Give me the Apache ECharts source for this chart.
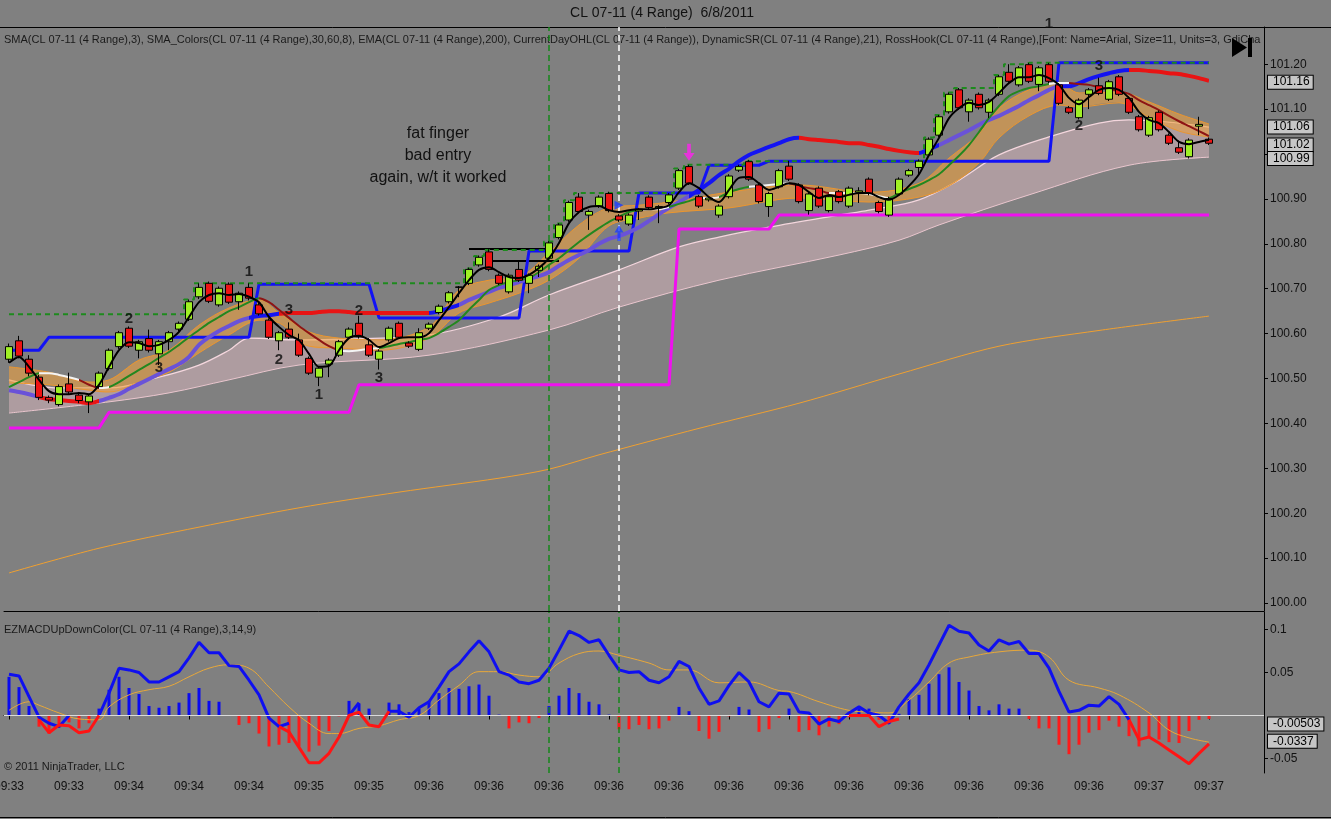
<!DOCTYPE html>
<html><head><meta charset="utf-8">
<script src="https://cdn.jsdelivr.net/npm/echarts@6/dist/echarts.min.js"></script>
<style>html,body{margin:0;padding:0;background:#808080;}#c{width:1331px;height:819px;}</style>
</head><body><div id="c"></div>
<script>
// ---------------- DATA ----------------
const timeLabels = ['09:33','09:33','09:34','09:34','09:34','09:35','09:35','09:36','09:36','09:36','09:36','09:36','09:36','09:36','09:36','09:36','09:36','09:36','09:36','09:37','09:37'];

// [open, close, low, high]
const ohlc = [
[100.543,100.571,100.535,100.578],[100.584,100.550,100.545,100.595],[100.543,100.512,100.505,100.552],[100.503,100.458,100.452,100.508],[100.458,100.452,100.445,100.462],
[100.442,100.482,100.438,100.487],[100.488,100.470,100.465,100.513],[100.463,100.451,100.445,100.470],[100.448,100.461,100.423,100.466],[100.482,100.512,100.478,100.516],
[100.522,100.563,100.518,100.567],[100.571,100.602,100.566,100.606],[100.612,100.572,100.568,100.616],[100.563,100.582,100.545,100.586],[100.589,100.563,100.558,100.609],
[100.555,100.582,100.530,100.586],[100.582,100.602,100.563,100.606],[100.610,100.623,100.605,100.627],[100.632,100.671,100.628,100.676],[100.682,100.703,100.677,100.712],
[100.712,100.672,100.668,100.716],[100.664,100.701,100.660,100.705],[100.710,100.670,100.666,100.714],[100.671,100.690,100.653,100.694],[100.703,100.679,100.674,100.712],
[100.664,100.644,100.640,100.668],[100.630,100.592,100.588,100.634],[100.584,100.602,100.563,100.606],[100.610,100.592,100.588,100.625],[100.586,100.552,100.548,100.600],
[100.545,100.512,100.508,100.549],[100.503,100.523,100.483,100.527],[100.532,100.541,100.503,100.545],[100.552,100.582,100.548,100.586],[100.592,100.610,100.588,100.614],
[100.623,100.593,100.589,100.640],[100.575,100.552,100.548,100.590],[100.543,100.561,100.520,100.565],[100.586,100.612,100.582,100.616],[100.623,100.592,100.588,100.627],
[100.579,100.572,100.568,100.583],[100.565,100.602,100.561,100.612],[100.612,100.621,100.608,100.625],[100.647,100.661,100.643,100.665],[100.671,100.691,100.667,100.695],
[100.703,100.704,100.681,100.706],[100.712,100.743,100.708,100.747],[100.753,100.770,100.749,100.774],[100.782,100.743,100.739,100.788],[100.730,100.712,100.708,100.734],
[100.693,100.730,100.689,100.734],[100.743,100.719,100.715,100.762],[100.712,100.730,100.690,100.734],[100.741,100.750,100.726,100.754],[100.768,100.802,100.764,100.806],
[100.814,100.842,100.810,100.846],[100.853,100.892,100.849,100.896],[100.904,100.872,100.868,100.913],[100.864,100.872,100.831,100.876],[100.884,100.904,100.880,100.908],
[100.912,100.874,100.870,100.916],[100.862,100.853,100.849,100.866],[100.844,100.864,100.840,100.868],[100.873,100.877,100.853,100.880],[100.904,100.881,100.877,100.908],
[100.880,100.883,100.846,100.886],[100.892,100.909,100.888,100.913],[100.924,100.963,100.920,100.967],[100.972,100.935,100.931,100.976],[100.905,100.884,100.880,100.909],
[100.898,100.902,100.894,100.906],[100.864,100.884,100.858,100.888],[100.905,100.951,100.901,100.955],[100.964,100.972,100.960,100.976],[100.983,100.944,100.940,100.987],
[100.931,100.894,100.890,100.935],[100.883,100.912,100.860,100.916],[100.927,100.963,100.923,100.967],[100.973,100.944,100.940,100.985],[100.931,100.894,100.890,100.935],
[100.874,100.911,100.865,100.915],[100.924,100.884,100.880,100.928],[100.874,100.905,100.870,100.909],[100.916,100.894,100.890,100.920],[100.884,100.924,100.880,100.928],
[100.915,100.918,100.891,100.926],[100.944,100.912,100.908,100.948],[100.892,100.872,100.868,100.896],[100.864,100.901,100.860,100.905],[100.911,100.944,100.907,100.948],
[100.953,100.963,100.949,100.967],[100.970,100.984,100.955,100.988],[100.998,101.033,100.994,101.037],[101.042,101.083,101.038,101.087],[101.094,101.133,101.090,101.137],
[101.143,101.103,101.099,101.147],[101.094,101.120,101.072,101.124],[101.133,101.103,101.099,101.137],[101.093,101.120,101.080,101.124],[101.133,101.172,101.129,101.176],
[101.182,101.162,101.158,101.200],[101.154,101.192,101.150,101.196],[101.199,101.162,101.158,101.203],[101.155,101.192,101.140,101.196],[101.199,101.162,101.158,101.203],
[101.154,101.113,101.109,101.158],[101.103,101.093,101.089,101.107],[101.081,101.120,101.077,101.124],[101.133,101.143,101.100,101.147],[101.152,101.135,101.131,101.170],
[101.122,101.161,101.118,101.165],[101.172,101.133,101.129,101.176],[101.124,101.093,101.089,101.128],[101.083,101.054,101.050,101.087],[101.042,101.081,101.038,101.085],
[101.093,101.054,101.050,101.097],[101.042,101.024,101.020,101.046],[101.014,101.004,101.000,101.030],[100.994,101.031,100.990,101.035],[101.062,101.066,101.042,101.083],
[101.033,101.024,101.020,101.037]
];

// SMA(3) black line
const smaFast = [100.535,100.548,100.526,100.497,100.472,100.465,100.465,100.468,100.465,100.486,
100.526,100.563,100.581,100.579,100.572,100.575,100.586,100.604,100.637,100.670,
100.686,100.690,100.686,100.688,100.682,100.670,100.637,100.615,100.597,100.585,
100.555,100.526,100.528,100.563,100.590,100.595,100.586,100.570,100.579,100.590,
100.592,100.592,100.601,100.630,100.659,100.690,100.719,100.742,100.748,100.737,
100.726,100.724,100.731,100.746,100.768,100.802,100.846,100.871,100.882,100.884,
100.875,100.871,100.875,100.877,100.877,100.880,100.886,100.915,100.935,100.924,
100.904,100.893,100.920,100.947,100.949,100.935,100.920,100.927,100.935,100.931,
100.915,100.902,100.909,100.904,100.909,100.913,100.913,100.904,100.898,100.909,
100.929,100.955,100.998,101.036,101.080,101.102,101.114,101.109,101.116,101.136,
101.158,101.171,101.171,101.176,101.169,101.154,101.125,101.111,101.127,101.143,
101.147,101.143,101.125,101.094,101.076,101.069,101.049,101.027,101.022,101.027,
101.031];

// SMA_Colors middle line (green rising / white flat / dark red falling)
const midLine = [100.481,100.492,100.503,100.512,100.512,100.508,100.503,100.497,100.486,100.479,
100.481,100.492,100.506,100.519,100.532,100.546,100.559,100.575,100.592,100.608,
100.624,100.637,100.650,100.659,100.670,100.679,100.670,100.653,100.635,100.617,
100.601,100.586,100.572,100.563,100.561,100.563,100.566,100.568,100.572,100.577,
100.581,100.586,100.590,100.601,100.615,100.630,100.653,100.675,100.697,100.708,
100.715,100.719,100.724,100.737,100.753,100.768,100.786,100.804,100.820,100.835,
100.849,100.860,100.871,100.875,100.877,100.877,100.882,100.889,100.895,100.902,
100.902,100.904,100.915,100.922,100.927,100.929,100.931,100.933,100.935,100.929,
100.924,100.920,100.913,100.913,100.913,100.913,100.911,100.906,100.902,100.913,
100.922,100.931,100.942,100.955,100.975,100.996,101.020,101.049,101.080,101.107,
101.129,101.140,101.147,101.151,101.156,101.158,101.158,101.156,101.154,101.149,
101.145,101.140,101.134,101.120,101.109,101.098,101.085,101.073,101.062,101.051,
101.040];
const midSegs = [[0,3,'U'],[3,7,'F'],[7,9,'D'],[9,10,'F'],[10,25,'U'],[25,33,'D'],[33,37,'F'],[37,63,'U'],[63,66,'F'],[66,69,'U'],[69,71,'F'],[71,74,'U'],[74,78,'F'],[78,82,'D'],[82,88,'F'],[88,104,'U'],[104,106,'F'],[106,120,'D']];

// thick slope-coloured line
const thickLine = [100.474,100.470,100.465,100.459,100.454,100.452,100.450,100.448,100.445,100.450,
100.457,100.465,100.477,100.488,100.499,100.510,100.521,100.532,100.548,100.575,
100.592,100.606,100.617,100.628,100.635,100.639,100.641,100.644,100.646,100.646,
100.646,100.648,100.650,100.650,100.648,100.646,100.646,100.646,100.646,100.646,
100.646,100.646,100.646,100.650,100.657,100.664,100.675,100.684,100.693,100.702,
100.708,100.715,100.722,100.728,100.737,100.751,100.764,100.775,100.786,100.800,
100.811,100.817,100.826,100.837,100.851,100.866,100.880,100.893,100.906,100.920,
100.935,100.953,100.967,100.984,100.998,101.007,101.016,101.024,101.033,101.036,
101.033,101.031,101.029,101.027,101.024,101.024,101.020,101.016,101.011,101.007,
101.004,101.002,101.011,101.020,101.031,101.042,101.053,101.065,101.076,101.085,
101.096,101.107,101.120,101.131,101.143,101.151,101.151,101.158,101.167,101.174,
101.180,101.185,101.187,101.187,101.185,101.183,101.180,101.178,101.174,101.169,
101.163];
const thickSegs = [[0,3,'P'],[3,9,'R'],[9,24,'P'],[24,27,'B'],[27,42,'R'],[42,45,'B'],[45,68,'P'],[68,79,'B'],[79,91,'R'],[91,93,'B'],[93,105,'P'],[105,112,'B'],[112,120,'R']];

// orange band [bar, price]
const orangeUp = [[0,100.526],[4,100.514],[8,100.492],[10,100.497],[13,100.541],[16,100.563],[19,100.619],[22,100.657],[25,100.675],[27,100.646],[30,100.604],[33,100.590],[37,100.586],[42,100.615],[45,100.697],[48,100.719],[51,100.726],[54,100.780],[57,100.842],[60,100.880],[63,100.886],[66,100.893],[72,100.915],[79,100.931],[86,100.915],[91,100.935],[94,100.991],[97,101.045],[99,101.102],[102,101.143],[105,101.158],[107,101.136],[111,101.138],[114,101.116],[117,101.089],[120,101.067]];
const orangeLo = [[0,100.490],[4,100.486],[8,100.474],[10,100.470],[13,100.492],[16,100.514],[19,100.557],[22,100.597],[25,100.630],[27,100.624],[30,100.572],[33,100.568],[37,100.563],[42,100.590],[45,100.646],[48,100.668],[51,100.690],[54,100.719],[57,100.768],[60,100.840],[63,100.857],[66,100.869],[72,100.880],[79,100.902],[86,100.893],[91,100.904],[94,100.929],[97,100.980],[99,101.036],[102,101.085],[105,101.109],[107,101.105],[111,101.114],[114,101.082],[117,101.051],[120,101.038]];

// pink band
const pinkUp = [[0,100.497],[5,100.479],[10,100.479],[15,100.503],[19,100.530],[22,100.563],[24,100.590],[29,100.586],[34,100.588],[42,100.597],[49,100.637],[54,100.686],[61,100.742],[67,100.793],[71,100.815],[76,100.837],[83,100.864],[86,100.875],[91,100.898],[95,100.942],[99,100.998],[104,101.038],[109,101.069],[112,101.076],[120,101.060]];
const pinkLo = [[0,100.423],[10,100.448],[16,100.468],[22,100.497],[29,100.530],[42,100.552],[54,100.608],[61,100.659],[71,100.719],[83,100.775],[89,100.808],[93,100.842],[102,100.909],[112,100.975],[120,100.993]];

// EMA(200)
const ema200 = [[0,100.067],[9,100.122],[19,100.169],[29,100.212],[39,100.247],[49,100.278],[54,100.298],[59,100.330],[69,100.389],[79,100.445],[89,100.510],[99,100.572],[109,100.607],[120,100.639]];

// DynamicSR resistance (blue) and support (magenta)
const dynRes = [[0,100.563],[3,100.563],[4,100.592],[24,100.592],[25,100.710],[36,100.710],[37,100.635],[51,100.635],[52,100.784],[62,100.784],[63,100.913],[69,100.913],[70,100.975],[75,100.975],[76,100.984],[104,100.984],[105,101.203],[120,101.203]];
const dynSup = [[0,100.390],[9,100.390],[10,100.425],[34,100.425],[35,100.486],[66,100.486],[67,100.833],[76,100.833],[77,100.864],[120,100.864]];

// CurrentDayOHL high (green dashed step)
const dayHigh = [[0,100.643],[17,100.643],[18,100.676],[19,100.712],[45,100.712],[46,100.745],[47,100.773],[48,100.786],[53,100.786],[54,100.805],[55,100.845],[56,100.897],[57,100.913],[66,100.913],[67,100.968],[68,100.976],[73,100.976],[74,100.984],[91,100.984],[92,101.037],[93,101.087],[94,101.137],[95,101.147],[98,101.147],[99,101.176],[100,101.200],[101,101.200],[102,101.203],[120,101.203]];

// hand drawn horizontal lines [fromBar, toBar, price]
const drawnLines = [[46,54,100.788],[48,55,100.762]];
// RossHook labels [bar, price, text]
const rossHooks = [[24,100.737,'1'],[12,100.633,'2'],[15,100.523,'3'],[28,100.653,'3'],[27,100.541,'2'],[31,100.463,'1'],[35,100.650,'2'],[37,100.501,'3'],[104,101.290,'1'],[109,101.196,'3'],[107,101.062,'2']];
const sellArrows = [[68,101.004]];
const buyArrows = [[61,100.824]];
const entryMarks = [[61,100.886]];
const vLinesPrice = [54,61];
const priceTicks = [100.0,100.1,100.2,100.3,100.4,100.5,100.6,100.7,100.8,100.9,101.0,101.1,101.2];
const priceTags = [101.16,101.06,101.02,100.99];

// MACD pane
const macdBlue = [0.048,0.046,0.022,-0.002,-0.009,-0.013,0.000,null,null,0.000,
0.026,0.055,0.053,0.050,0.039,0.039,0.045,0.051,0.067,0.085,
0.073,0.073,0.058,0.057,0.041,0.024,-0.003,-0.013,-0.009,null,
null,null,null,null,0.000,0.015,null,null,0.005,0.005,
-0.002,0.009,0.016,0.033,0.051,0.060,0.074,0.087,0.074,0.051,
0.047,0.039,0.037,0.041,0.055,0.076,0.098,0.093,0.085,0.088,
0.070,0.053,0.050,0.051,0.041,0.038,0.045,0.063,0.057,0.032,
0.013,0.017,0.035,0.050,0.039,0.016,0.010,0.026,0.025,0.004,
0.003,-0.010,-0.004,-0.007,0.003,0.010,0.003,0.000,-0.009,0.010,
0.025,0.038,0.059,0.082,0.105,0.098,0.096,0.082,0.075,0.088,
0.083,0.086,0.072,0.072,0.055,0.028,0.004,0.006,0.012,0.011,
0.022,0.013,-0.005,null,null,null,null,null,null,null,
null];
const macdRed = [null,null,null,-0.005,-0.020,-0.011,-0.012,-0.020,-0.018,0.000,
null,null,null,null,null,null,null,null,null,null,
null,null,null,null,null,null,null,-0.013,-0.019,-0.037,
-0.055,-0.055,-0.044,-0.025,0.000,0.004,-0.011,-0.013,0.005,null,
null,null,null,null,null,null,null,null,null,null,
null,null,null,null,null,null,null,null,null,null,
null,null,null,null,null,null,null,null,null,null,
null,null,null,null,null,null,null,null,null,null,
null,null,null,null,0.000,0.000,0.000,-0.013,-0.007,-0.004,
null,null,null,null,null,null,null,null,null,null,
null,null,null,null,null,null,null,null,null,null,
null,null,-0.005,-0.028,-0.025,-0.032,-0.040,-0.048,-0.056,-0.044,
-0.033];
const macdSignal = [[0,0.006],[2,0.016],[3,0.012],[5,0.003],[7,-0.004],[9,-0.005],[10,0.010],[12,0.024],[14,0.030],[16,0.034],[18,0.045],[20,0.055],[22,0.059],[24,0.055],[26,0.033],[28,0.010],[30,-0.009],[32,-0.021],[33,-0.021],[35,-0.015],[37,-0.012],[39,-0.005],[41,0.000],[43,0.018],[45,0.035],[47,0.051],[49,0.051],[51,0.047],[53,0.045],[55,0.061],[57,0.072],[59,0.075],[61,0.070],[64,0.061],[66,0.053],[68,0.053],[71,0.038],[74,0.039],[77,0.029],[78,0.028],[81,0.016],[84,0.006],[86,0.004],[88,0.003],[90,0.018],[92,0.039],[94,0.061],[96,0.068],[99,0.074],[102,0.076],[104,0.068],[106,0.041],[109,0.032],[111,0.024],[114,0.003],[116,-0.017],[118,-0.026],[120,-0.031]];
const macdHist = [0.045,0.033,0.011,-0.013,-0.021,-0.010,-0.008,-0.015,-0.009,0.008,
0.030,0.045,0.032,0.025,0.011,0.009,0.011,0.015,0.026,0.032,
0.017,0.016,0.000,-0.011,-0.009,-0.021,-0.036,-0.034,-0.032,-0.036,
-0.042,-0.035,-0.018,-0.001,0.017,0.014,0.008,0.000,0.015,0.013,
0.004,0.008,0.017,0.026,0.032,0.031,0.034,0.036,0.023,0.001,
-0.015,-0.008,-0.009,-0.003,0.011,0.023,0.032,0.026,0.016,0.013,
0.001,-0.016,-0.016,-0.011,-0.016,-0.015,-0.006,0.010,0.005,-0.018,
-0.027,-0.019,-0.001,0.010,0.007,-0.019,-0.016,-0.003,0.008,-0.019,
-0.017,-0.023,-0.013,-0.010,-0.002,0.008,0.008,-0.005,-0.006,0.002,
0.019,0.024,0.037,0.048,0.056,0.039,0.029,0.011,0.006,0.013,
0.008,0.008,-0.004,-0.015,-0.015,-0.034,-0.045,-0.034,-0.020,-0.017,
-0.006,-0.013,-0.024,-0.036,-0.026,-0.028,-0.031,-0.032,-0.018,-0.005,
-0.004];
const macdTicks = [-0.05,0.05,0.1];
const macdTags = ['-0.00503','-0.0337'];
const vLinesMacd = [54,61];

// ---------------- CHART ----------------
const FONT = "'Liberation Sans', Arial, sans-serif";
const NCAT = 126; // 121 bars + empty right margin
const cats = [];
for (let i = 0; i < NCAT; i++) cats.push(String(i));
const pairs = arr => arr.map((v, i) => [i, v]);
const CLEAR = 'rgba(0,0,0,0)';
function pieces(segs, colors) {
  return segs.map((s, k) => k === 0 ? {gte: s[0], lte: s[1], color: colors[s[2]]} : {gt: s[0], lte: s[1], color: colors[s[2]]});
}
function band(up, lo, fill) {
  return function (params, api) {
    const a = up.map(p => api.coord(p));
    const b = lo.map(p => api.coord(p)).reverse();
    const pts = [a[0]].concat(a, [a[a.length - 1]], [b[0]], b, [b[b.length - 1]]);
    return {type: 'polygon', shape: {points: pts, smooth: 0.35}, style: {fill: fill}, silent: true};
  };
}
const lineBase = (data, color, width, z, extra) => Object.assign({
  type: 'line', xAxisIndex: 0, yAxisIndex: 0, data: data, symbol: 'none', silent: true,
  lineStyle: color ? {color: color, width: width} : {width: width}, z: z, animation: false
}, extra || {});
const tagLabel = text => ({show: true, position: 'end', distance: 4, formatter: text, color: '#000', fontSize: 12, fontFamily: FONT,
  backgroundColor: '#c6c6c6', borderColor: '#000', borderWidth: 1, padding: [1, 3, 0, 5]});
const ARROW = 'path://M3,0 L6,0 L6,7 L9,7 L4.5,13 L0,7 L3,7 Z';

const chart = echarts.init(document.getElementById('c'));
const option = {
  backgroundColor: '#808080',
  animation: false,
  textStyle: {fontFamily: FONT},
  grid: [
    {left: 4, top: 27, width: 1260, height: 584, containLabel: false, outerBoundsMode: 'none'},
    {left: 4, top: 612, width: 1260, height: 161, containLabel: false, outerBoundsMode: 'none'}
  ],
  xAxis: [
    {type: 'category', gridIndex: 0, data: cats, boundaryGap: true,
     axisLine: {show: true, lineStyle: {color: '#000', width: 1}}, axisTick: {show: false}, axisLabel: {show: false}, splitLine: {show: false}},
    {type: 'category', gridIndex: 1, data: cats, boundaryGap: true,
     axisLine: {show: true, lineStyle: {color: '#000', width: 1}},
     axisTick: {show: true, interval: 5, alignWithLabel: true, length: 4, lineStyle: {color: '#000'}},
     axisLabel: {interval: 5, margin: 8, color: '#111', fontSize: 12, fontFamily: FONT, hideOverlap: false,
       formatter: (v, idx) => timeLabels[idx / 6] || ''},
     splitLine: {show: false}}
  ],
  yAxis: [
    {type: 'value', gridIndex: 0, position: 'right', min: 99.9822, max: 101.2829, scale: true,
     axisLine: {show: true, lineStyle: {color: '#000'}},
     axisTick: {show: true, length: 4, customValues: priceTicks, lineStyle: {color: '#000'}},
     axisLabel: {customValues: priceTicks, formatter: v => v.toFixed(2), color: '#111', fontSize: 12, fontFamily: FONT, margin: 6},
     splitLine: {show: false}},
    {type: 'value', gridIndex: 1, position: 'right', min: -0.06686, max: 0.12035,
     axisLine: {show: true, lineStyle: {color: '#000'}},
     axisTick: {show: true, length: 4, customValues: macdTicks, lineStyle: {color: '#000'}},
     axisLabel: {customValues: macdTicks, formatter: v => String(v), color: '#111', fontSize: 12, fontFamily: FONT, margin: 6},
     splitLine: {show: false}}
  ],
  visualMap: [
    {type: 'piecewise', show: false, dimension: 0, seriesIndex: 10,
     pieces: pieces(thickSegs, {P: '#6a52d8', B: '#1414f2', R: '#e81414'}), outOfRange: {color: '#6a52d8'}},
    {type: 'piecewise', show: false, dimension: 0, seriesIndex: 11,
     pieces: pieces(midSegs, {U: '#23871f', F: '#f4f4f4', D: '#8e1414'}), outOfRange: {color: '#23871f'}}
  ],
  series: [
    {type: 'custom', xAxisIndex: 0, yAxisIndex: 0, data: [[0, 100.5]], encode: {x: 0, y: 1}, z: 1, silent: true,
     renderItem: band(pinkUp, pinkLo, 'rgba(230,190,200,0.45)')},
    lineBase(pinkUp, '#f4d6dd', 1.3, 2, {smooth: 0.35}),
    lineBase(pinkLo, '#eac6ce', 1, 2, {smooth: 0.35}),
    {type: 'custom', xAxisIndex: 0, yAxisIndex: 0, data: [[0, 100.5]], encode: {x: 0, y: 1}, z: 3, silent: true,
     renderItem: band(orangeUp, orangeLo, 'rgba(240,160,60,0.58)')},
    lineBase(orangeUp, '#ec962e', 1, 4, {smooth: 0.35}),
    lineBase(orangeLo, '#ec962e', 1, 4, {smooth: 0.35}),
    lineBase(ema200, '#f0a030', 1, 4, {smooth: 0.3}),
    lineBase(dynSup, '#f010f0', 3, 5),
    lineBase(dynRes, '#1212f5', 3, 5),
    lineBase(dayHigh, null, 2, 6, {step: 'middle', lineStyle: {color: '#1d8a1d', width: 2, type: [5, 4]}}),
    lineBase(pairs(thickLine), null, 4, 7, {smooth: 0.3}),
    lineBase(pairs(midLine), null, 2, 8, {smooth: 0.3}),
    {type: 'candlestick', xAxisIndex: 0, yAxisIndex: 0, data: ohlc, barWidth: 7, z: 9, silent: true,
     itemStyle: {color: '#a0f024', color0: '#ee1414', borderColor: '#000', borderColor0: '#000', borderWidth: 1},
     markLine: {silent: true, symbol: ['none', 'none'], label: {show: false}, animation: false,
       data: [
         {xAxis: vLinesPrice[0], lineStyle: {color: '#15861a', width: 1.5, type: [6, 4]}},
         {xAxis: vLinesPrice[1], lineStyle: {color: '#ffffff', width: 1.5, type: [6, 4]}}
       ]}},
    lineBase(pairs(smaFast), '#000', 2, 10, {smooth: 0.3,
      markLine: {silent: true, symbol: ['none', 'none'], animation: false,
        data: drawnLines.map(d => [
          {coord: [d[0], d[2]], lineStyle: {color: '#000', width: 2, type: 'solid'}, label: {show: false}},
          {coord: [d[1], d[2]]}
        ])
      }}),
    {type: 'scatter', xAxisIndex: 0, yAxisIndex: 0, clip: false, z: 11, silent: true, symbolSize: 2,
     itemStyle: {color: CLEAR},
     data: rossHooks.map(r => ({value: [r[0], r[1]], label: {formatter: r[2]}})),
     label: {show: true, position: 'inside', color: '#0a0a0a', fontSize: 15, fontWeight: 'bold', fontFamily: FONT}},
    {type: 'scatter', xAxisIndex: 0, yAxisIndex: 0, z: 11, silent: true,
     symbol: ARROW, symbolSize: [11, 17], itemStyle: {color: '#ff20f0'}, data: sellArrows},
    {type: 'scatter', xAxisIndex: 0, yAxisIndex: 0, z: 11, silent: true,
     symbol: ARROW, symbolRotate: 180, symbolSize: [9, 16], itemStyle: {color: '#1a3cff'}, data: buyArrows},
    {type: 'scatter', xAxisIndex: 0, yAxisIndex: 0, z: 11, silent: true,
     symbol: 'triangle', symbolRotate: -90, symbolSize: 9, itemStyle: {color: '#1a3cff'}, data: entryMarks},
    {type: 'line', xAxisIndex: 0, yAxisIndex: 0, data: [], symbol: 'none', silent: true, z: 12,
     markLine: {silent: true, symbol: ['none', 'none'], animation: false,
       data: priceTags.map(t => ({yAxis: t, lineStyle: {color: CLEAR, width: 1}, label: tagLabel(t.toFixed(2))}))}},
    {type: 'bar', xAxisIndex: 1, yAxisIndex: 1, data: macdHist, barWidth: 3, z: 2, silent: true,
     itemStyle: {color: p => p.value >= 0 ? '#0a0af0' : '#ff1a1a'},
     markLine: {silent: true, symbol: ['none', 'none'], animation: false,
       data: [{yAxis: 0, lineStyle: {color: '#dadada', width: 1, type: 'solid'}, label: {show: false}}]
         .concat(vLinesMacd.map(x => ({xAxis: x, lineStyle: {color: '#15861a', width: 1.5, type: [6, 4]}, label: {show: false}})))
     }},
    {type: 'line', xAxisIndex: 1, yAxisIndex: 1, data: macdSignal, symbol: 'none', smooth: 0.4, z: 3, silent: true,
     lineStyle: {color: '#e8a83a', width: 1}},
    {type: 'line', xAxisIndex: 1, yAxisIndex: 1, data: macdBlue, symbol: 'none', z: 4, silent: true,
     lineStyle: {color: '#0f0ff0', width: 3}},
    {type: 'line', xAxisIndex: 1, yAxisIndex: 1, data: macdRed, symbol: 'none', z: 5, silent: true,
     lineStyle: {color: '#ff1414', width: 3},
     markLine: {silent: true, symbol: ['none', 'none'], animation: false,
       data: macdTags.map(t => ({yAxis: Number(t), lineStyle: {color: CLEAR, width: 1}, label: tagLabel(t)}))
     }}
  ],
  graphic: [
    {type: 'text', x: 662, y: 13, silent: true,
     style: {text: 'CL 07-11 (4 Range)  6/8/2011', fill: '#111', font: '14px ' + FONT, align: 'center', verticalAlign: 'middle'}},
    {type: 'line', silent: true, shape: {x1: 0, y1: 27.5, x2: 1331, y2: 27.5}, style: {stroke: '#000', lineWidth: 1}},
    {type: 'line', silent: true, shape: {x1: 0, y1: 817.5, x2: 1331, y2: 817.5}, style: {stroke: '#000', lineWidth: 1}},
    {type: 'text', x: 4, y: 40, silent: true,
     style: {text: 'SMA(CL 07-11 (4 Range),3), SMA_Colors(CL 07-11 (4 Range),30,60,8), EMA(CL 07-11 (4 Range),200), CurrentDayOHL(CL 07-11 (4 Range)), DynamicSR(CL 07-11 (4 Range),21), RossHook(CL 07-11 (4 Range),[Font: Name=Arial, Size=11, Units=3, GdiCharSet=1, GdiVerticalFont=False],Black,3)',
       fill: '#1a1a1a', font: '11px ' + FONT, verticalAlign: 'middle', width: 1258, overflow: 'truncate', ellipsis: ''}},
    {type: 'text', x: 4, y: 630, silent: true,
     style: {text: 'EZMACDUpDownColor(CL 07-11 (4 Range),3,14,9)', fill: '#1a1a1a', font: '11px ' + FONT, verticalAlign: 'middle'}},
    {type: 'text', x: 4, y: 767, silent: true,
     style: {text: '© 2011 NinjaTrader, LLC', fill: '#1a1a1a', font: '11px ' + FONT, verticalAlign: 'middle'}},
    {type: 'text', x: 438, y: 156, silent: true, z: 20,
     style: {text: 'fat finger\nbad entry\nagain, w/t it worked', fill: '#111', font: '16px ' + FONT, align: 'center', verticalAlign: 'middle', lineHeight: 22}},
    {type: 'polygon', silent: true, shape: {points: [[1232, 38], [1232, 57], [1247, 47.5]]}, style: {fill: '#000'}},
    {type: 'rect', silent: true, shape: {x: 1248, y: 38, width: 4, height: 19}, style: {fill: '#000'}}
  ]
};
chart.setOption(option);
</script>
</body></html>
